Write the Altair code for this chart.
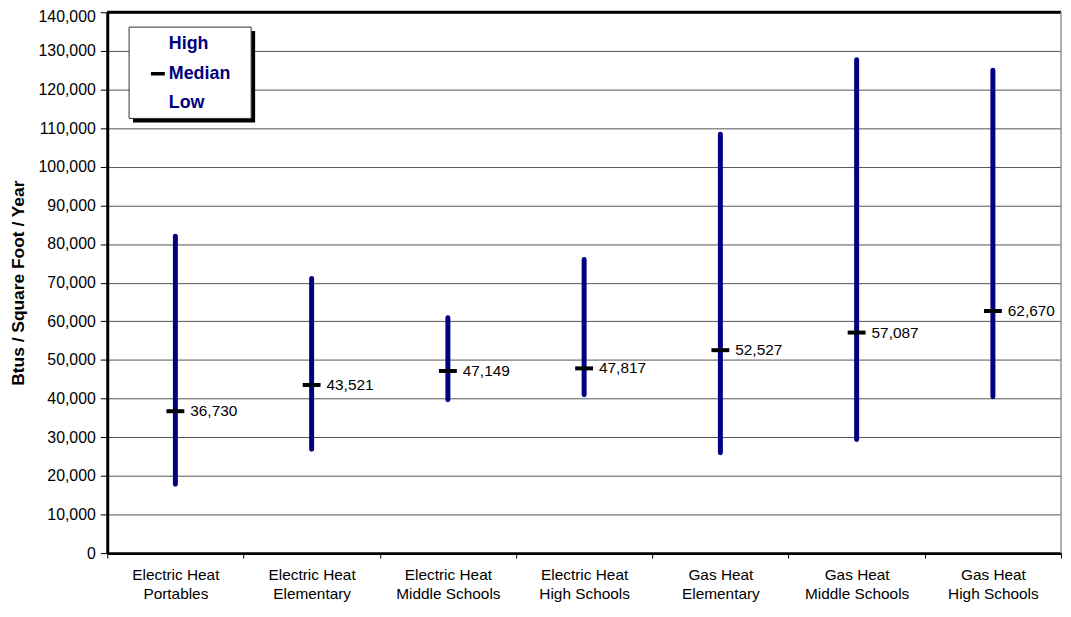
import altair as alt
import pandas as pd

categories = [
    "Electric Heat Portables",
    "Electric Heat Elementary",
    "Electric Heat Middle Schools",
    "Electric Heat High Schools",
    "Gas Heat Elementary",
    "Gas Heat Middle Schools",
    "Gas Heat High Schools",
]
highs = [82000, 71100, 60900, 76000, 108400, 127700, 125000]
lows = [17800, 26900, 39700, 41000, 26000, 29400, 40500]
medians = [36730, 43521, 47149, 47817, 52527, 57087, 62670]
y_ticks = list(range(0, 140001, 10000))

df = pd.DataFrame({"cat": categories, "high": highs, "low": lows, "median": medians})
one = pd.DataFrame({"a": [0]})

W, H = 961, 545
NAVY = "#000080"
FONT = "Liberation Sans"

xaxis = alt.Axis(
    title=None,
    labelAngle=0,
    tickBand="extent",
    labelExpr="[slice(datum.label, 0, indexof(datum.label, 'Heat') + 4), slice(datum.label, indexof(datum.label, 'Heat') + 5)]",
    labelFontSize=15.5,
    labelLineHeight=19,
    labelPadding=10,
    labelColor="black",
    labelFont=FONT,
    tickSize=5,
    tickColor="black",
    tickWidth=1,
    domainColor="black",
    domainWidth=3,
    grid=False,
)
yaxis = alt.Axis(
    title="Btus / Square Foot / Year",
    titleFontSize=17.5,
    titleFontWeight="bold",
    titleFont=FONT,
    titleColor="black",
    titlePadding=11,
    values=y_ticks,
    format=",.0f",
    labelFontSize=16,
    labelFont=FONT,
    labelColor="black",
    labelPadding=5,
    labelOverlap=False,
    labelOffset={"condition": {"test": "datum.value >= 140000", "value": 4}, "value": 0},
    tickSize=7,
    tickColor="black",
    domainColor="black",
    domainWidth=3,
    grid=True,
    gridColor="#555555",
    gridWidth=1,
)
xscale = alt.Scale(paddingInner=0, paddingOuter=0)
yscale = alt.Scale(domain=[0, 140000], nice=False)


def X():
    return alt.X("cat:N", sort=categories, scale=xscale, axis=xaxis)


def Y(field):
    return alt.Y(field, type="quantitative", scale=yscale, axis=yaxis)


base = alt.Chart(df)

rules = base.mark_rule(color=NAVY, strokeWidth=5, strokeCap="round").encode(
    x=X(), y=Y("low"), y2="high:Q"
)

ticks = base.mark_tick(color="black", size=18, thickness=4, opacity=1).encode(
    x=X(), y=Y("median")
)

labels = base.mark_text(
    align="left", baseline="middle", dx=15, fontSize=15.5, font=FONT, color="black"
).encode(
    x=X(), y=Y("median"), text=alt.Text("median:Q", format=",.0f")
)

top_rule = alt.Chart(one).mark_rule(color="black", strokeWidth=3).encode(
    x=alt.value(0), x2=alt.value(W), y=alt.value(0)
)
right_rule = alt.Chart(one).mark_rule(color="#999999", strokeWidth=1.5).encode(
    x=alt.value(W), y=alt.value(0), y2=alt.value(H)
)

shadow = alt.Chart(one).mark_rect(color="black").encode(
    x=alt.value(26), x2=alt.value(149), y=alt.value(19), y2=alt.value(111)
)
box = alt.Chart(one).mark_rect(fill="white", stroke="#333333", strokeWidth=1).encode(
    x=alt.value(22), x2=alt.value(145), y=alt.value(15), y2=alt.value(107)
)
dash = alt.Chart(one).mark_rule(color="black", strokeWidth=3.5).encode(
    x=alt.value(44), x2=alt.value(58), y=alt.value(62)
)
leg_texts = []
for txt, yy in [("High", 32), ("Median", 62), ("Low", 92)]:
    leg_texts.append(
        alt.Chart(one).mark_text(
            align="left", baseline="middle", fontSize=18, fontWeight="bold",
            font=FONT, color=NAVY
        ).encode(x=alt.value(62), y=alt.value(yy), text=alt.value(txt))
    )

chart = alt.layer(
    rules, ticks, labels, top_rule, right_rule, shadow, box, dash, *leg_texts
).properties(
    width=W, height=H,
    autosize=alt.AutoSizeParams(type="none"),
    padding={"left": 100, "top": 2, "right": 2, "bottom": 47},
).configure_view(stroke=None).configure(background="white")

chart.save("out.html", embed_options={"renderer": "svg", "actions": False})
